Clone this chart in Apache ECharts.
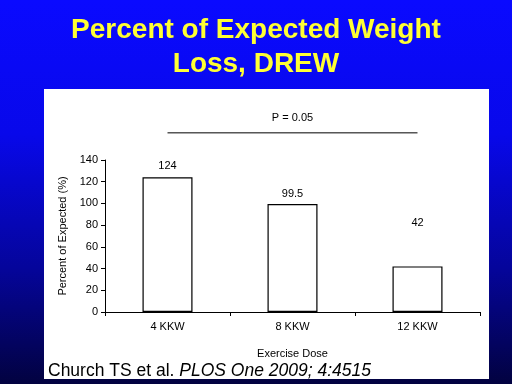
<!DOCTYPE html>
<html>
<head>
<meta charset="utf-8">
<script src="https://cdn.jsdelivr.net/npm/echarts@6/dist/echarts.min.js"></script>
<style>
html,body{margin:0;padding:0;background:#fff;}
#chart{width:512px;height:384px;}
</style>
</head>
<body>
<div id="chart"></div>
<script>
const categories = ['4 KKW', '8 KKW', '12 KKW'];
const values = [124, 99.5, 42];
const valueLabels = ['124', '99.5', '42'];
const yTicks = [0, 20, 40, 60, 80, 100, 120, 140];
const pText = 'P = 0.05';
const pLineLevel = 165;

const FONT = '"Liberation Sans", Arial, sans-serif';
const labelDistances = [6, 5, 38];

const chart = echarts.init(document.getElementById('chart'), null, {renderer: 'canvas'});

const baseOption = {
  animation: false,
  backgroundColor: {
    type: 'linear', x: 0, y: 0, x2: 0, y2: 1,
    colorStops: [
      {offset: 0, color: '#0a0aff'},
      {offset: 0.35, color: '#0808ea'},
      {offset: 0.7, color: '#05059a'},
      {offset: 1, color: '#020240'}
    ]
  },
  grid: {left: 105, right: 32, top: 160, bottom: 72, containLabel: false},
  xAxis: {
    type: 'category',
    data: categories,
    axisLine: {show: true, lineStyle: {color: '#000', width: 1}},
    axisTick: {show: true, length: 4, inside: false, alignWithLabel: false, lineStyle: {color: '#000'}},
    axisLabel: {color: '#000', fontSize: 11, fontFamily: FONT, margin: 9},
    name: 'Exercise Dose',
    nameLocation: 'middle',
    nameGap: 36,
    nameTextStyle: {color: '#000', fontSize: 11, fontFamily: FONT}
  },
  yAxis: {
    type: 'value',
    min: yTicks[0],
    max: yTicks[yTicks.length - 1],
    interval: yTicks[1] - yTicks[0],
    axisLine: {show: true, lineStyle: {color: '#000', width: 1}},
    axisTick: {show: true, length: 4, inside: false, lineStyle: {color: '#000'}},
    splitLine: {show: false},
    axisLabel: {color: '#000', fontSize: 11, fontFamily: FONT, margin: 7},
    name: 'Percent of Expected (%)',
    nameLocation: 'middle',
    nameGap: 31,
    nameTextStyle: {color: '#000', fontSize: 11, fontFamily: FONT}
  },
  series: [{
    type: 'bar',
    barWidth: '40%',
    z: 5,
    data: values.map((v, i) => ({
      value: v,
      label: {distance: labelDistances[i], formatter: valueLabels[i]}
    })),
    itemStyle: {color: '#fff', borderColor: '#000', borderWidth: 1.2},
    label: {show: true, position: 'top', color: '#000', fontSize: 11, fontFamily: FONT}
  }],
  graphic: [
    {type: 'rect', z: -10, silent: true, shape: {x: 44, y: 89, width: 445, height: 290}, style: {fill: '#fff'}},
    {type: 'text', z: 10, x: 256, y: 30, style: {text: 'Percent of Expected Weight', fill: '#ffff33', font: 'bold 28px ' + FONT, align: 'center', verticalAlign: 'middle'}},
    {type: 'text', z: 10, x: 256, y: 64, style: {text: 'Loss, DREW', fill: '#ffff33', font: 'bold 28px ' + FONT, align: 'center', verticalAlign: 'middle'}},
    {type: 'text', z: 10, x: 48, y: 371, style: {
      text: '{n|Church TS et al. }{i|PLOS One 2009; 4:4515}',
      verticalAlign: 'middle',
      rich: {
        n: {fill: '#000', font: '17.5px ' + FONT},
        i: {fill: '#000', font: 'italic 17.5px ' + FONT}
      }
    }}
  ]
};

chart.setOption(baseOption);

const x0 = chart.convertToPixel({xAxisIndex: 0}, categories[0]);
const x2 = chart.convertToPixel({xAxisIndex: 0}, categories[categories.length - 1]);
const yLine = chart.convertToPixel({yAxisIndex: 0}, pLineLevel);

chart.setOption({
  graphic: baseOption.graphic.concat([
    {type: 'line', z: 10, shape: {x1: x0, y1: yLine, x2: x2, y2: yLine}, style: {stroke: '#000', lineWidth: 1}},
    {type: 'text', z: 10, x: (x0 + x2) / 2, y: yLine - 15, style: {text: pText, fill: '#000', font: '11px ' + FONT, align: 'center', verticalAlign: 'middle'}}
  ])
}, {replaceMerge: ['graphic']});
</script>
</body>
</html>
